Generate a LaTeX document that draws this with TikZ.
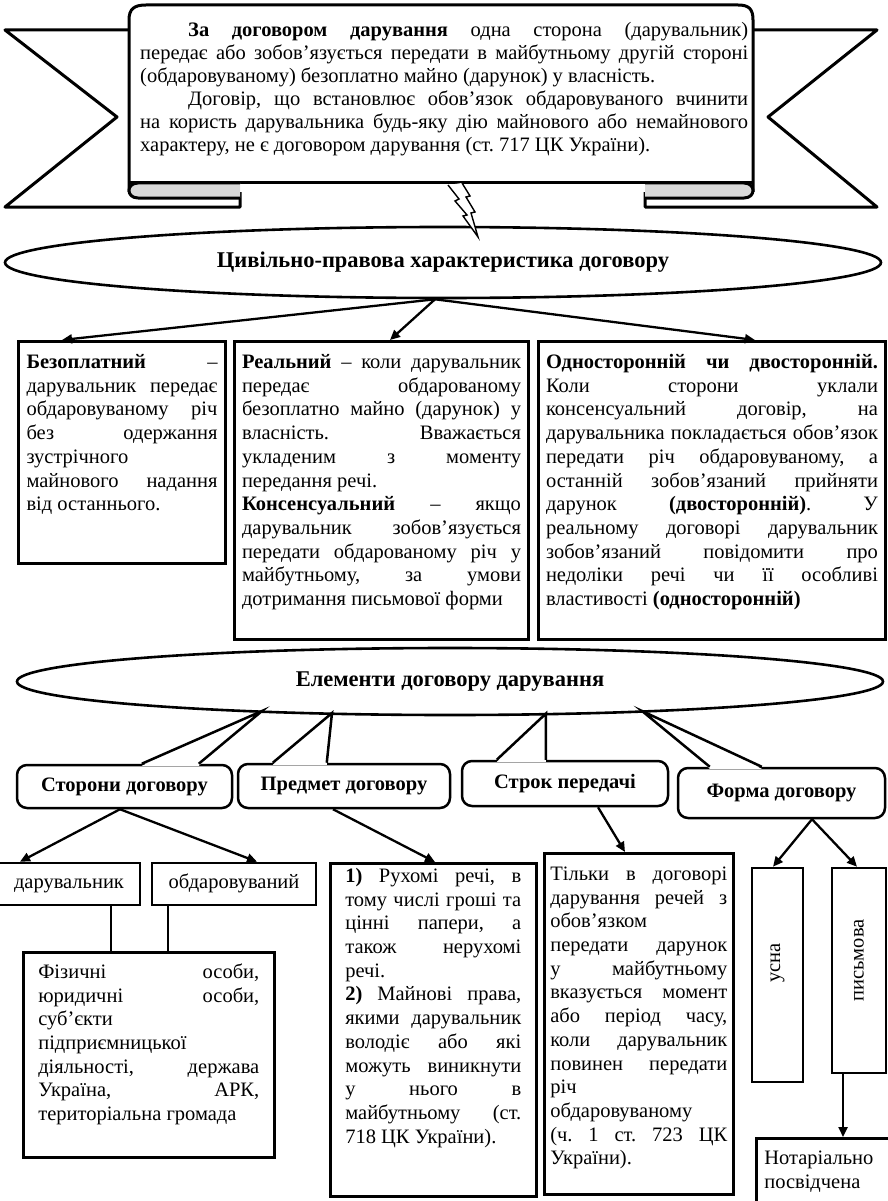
\documentclass[tikz,border=0pt]{standalone}
\usepackage{fontspec}
\setmainfont{Liberation Serif}
\usepackage{graphicx}
\usetikzlibrary{arrows.meta,shapes.geometric}

\frenchspacing
\tolerance=10000
\hbadness=10000
\hyphenpenalty=10000
\exhyphenpenalty=10000

\tikzset{
  ribbon/.style={line width=3pt, line join=round},
  oval/.style={draw, ellipse, line width=2.6pt, inner sep=0pt,
    font=\fontsize{22.5pt}{27pt}\selectfont\bfseries},
  frame/.style={draw, line width=3pt, anchor=north west, inner xsep=7.5pt, inner ysep=10.5pt},
  cell/.style={draw, line width=2.6pt},
  word/.style={cell, text height=12.5pt, text depth=4.5pt},
  bubble/.style={draw, line width=2.5pt, rounded corners=10pt, inner sep=0pt,
    font=\fontsize{20.5pt}{24pt}\selectfont\bfseries},
  tailline/.style={line width=2.5pt, line join=miter},
  arr/.style={line width=2.3pt, -{Triangle[length=10pt,width=9pt]}},
}
% text of a box: height, width, text
\newcommand{\fbody}[3]{\parbox[t][#1pt][t]{#2pt}{\strut #3}}
% tail of a callout: node, base from, base to, tip
\newcommand{\tail}[4]{%
  \fill[white] ([xshift=#2pt,yshift=-2pt]#1.north west) -- (#4) -- ([xshift=#3pt,yshift=-2pt]#1.north west) -- cycle;
  \draw[tailline] ([xshift=#2pt]#1.north west) -- (#4) -- ([xshift=#3pt]#1.north west);}

\begin{document}
\begin{tikzpicture}[x=1pt, y=-1pt, font=\fontsize{20.5pt}{23.7pt}\selectfont]
  \useasboundingbox (0,0) rectangle (887,1201);

  % ribbon with the definition
  \draw[ribbon] (129,30) -- (5,30) -- (117,117) -- (5,207) -- (240,207) -- (240,185);
  \draw[ribbon] (753,30) -- (877,30) -- (768,117) -- (877,207) -- (645,207) -- (645,185);
  \draw[ribbon, fill=white] (129,192) -- (129,20) .. controls (129,9) and (134,5) .. (146,5)
    -- (738,5) .. controls (749,5) and (753,9) .. (753,20) -- (753,192);
  \draw[ribbon] (129,183) -- (753,183);
  \filldraw[ribbon, fill=gray!30] (240,183) -- (138,183) .. controls (126,183) and (126,198) .. (138,198) -- (240,198);
  \filldraw[ribbon, fill=gray!30] (645,183) -- (744,183) .. controls (756,183) and (756,198) .. (744,198) -- (645,198);
  \node[anchor=base west, inner sep=0pt, font=\fontsize{20.5pt}{22.9pt}\selectfont] (def) at (140,37)
    {\parbox[t]{608pt}{\hspace*{48pt}\textbf{За договором дарування} одна сторона (дарувальник)\linebreak
     передає або зобов’язується передати в майбутньому другій стороні\linebreak
     (обдаровуваному) безоплатно майно (дарунок) у власність.\par
     \hspace*{48pt}Договір, що встановлює обов’язок обдаровуваного вчинити\linebreak
     на користь дарувальника будь-яку дію майнового або немайнового\linebreak
     характеру, не є договором дарування (ст. 717 ЦК України).}};

  \node[oval, minimum width=876pt, minimum height=71pt] (char) at (443,262.5) {Цивільно-правова характеристика договору};
  \filldraw[line width=1.4pt, fill=white, line join=miter] (448,185) -- (459,199) -- (455,201) -- (467,215)
    -- (463,216) -- (478,237) -- (471,213) -- (475,212) -- (466,197) -- (470,196) -- (462,183);

  % features
  \node[frame, inner xsep=8pt] (free) at (17,340) {\fbody{201}{191}{\textbf{Безоплатний} –\linebreak
    дарувальник передає\linebreak обдаровуваному річ\linebreak без одержання\linebreak зустрічного\\
    майнового надання\linebreak від останнього.}};
  \node[frame] (real) at (233,340) {\fbody{277}{279}{\textbf{Реальний} – коли дарувальник\linebreak
    передає обдарованому\linebreak безоплатно майно (дарунок) у\linebreak власність. Вважається\linebreak
    укладеним з моменту\linebreak передання речі.\par
    \textbf{Консенсуальний} – якщо\linebreak дарувальник зобов’язується\linebreak
    передати обдарованому річ у\linebreak майбутньому, за умови\linebreak дотримання письмової форми}};
  \node[frame] (side) at (537,340) {\fbody{277}{332}{\textbf{Односторонній чи двосторонній.}\linebreak
    Коли сторони уклали\linebreak консенсуальний договір, на\linebreak
    дарувальника покладається обов’язок\linebreak передати річ обдаровуваному, а\linebreak
    останній зобов’язаний прийняти\linebreak дарунок \textbf{(двосторонній)}. У\linebreak
    реальному договорі дарувальник\linebreak зобов’язаний повідомити про\linebreak
    недоліки речі чи її особливі\linebreak властивості \textbf{(односторонній)}}};
  \draw[arr] ([xshift=-8pt]char.south) -- (62,0 |- free.north);
  \draw[arr] ([xshift=-8pt]char.south) -- (390,0 |- real.north);
  \draw[arr] ([xshift=-8pt]char.south) -- (755,0 |- side.north);

  % elements
  \node[bubble, minimum width=215pt, minimum height=43pt] (sides) at (124.5,786.5) {Сторони договору};
  \node[bubble, minimum width=212pt, minimum height=44pt] (subj) at (344,786) {Предмет договору};
  \node[bubble, minimum width=206pt, minimum height=45pt] (term) at (565,783.5) {Строк передачі};
  \node[bubble, minimum width=207pt, minimum height=50pt] (form) at (781.5,793) {Форма договору};
  \tail{sides}{126}{183}{262,711}
  \tail{subj}{36}{90}{332,713}
  \tail{term}{36}{85}{546,713.5}
  \tail{form}{33}{85}{642,711}
  \node[oval, minimum width=866pt, minimum height=67pt] (elem) at (450,681.5) {Елементи договору дарування};

  \node[word, minimum width=142pt, minimum height=42pt] (donor) at (69,884) {дарувальник};
  \node[word, minimum width=164pt, minimum height=42pt] (donee) at (234,884) {обдаровуваний};
  \node[cell, anchor=north west, inner xsep=15pt, inner ysep=9.5pt] (pers) at (22,951)
    {\fbody{186}{221}{Фізичні особи,\linebreak юридичні особи,\linebreak суб’єкти\\ підприємницької\\
     діяльності, держава\linebreak Україна, АРК,\linebreak територіальна громада}};
  \node[cell, anchor=north west, inner xsep=15pt, inner ysep=2.5pt] (item) at (329,862)
    {\fbody{328}{176}{\textbf{1)} Рухомі речі, в\linebreak тому числі гроші та\linebreak цінні папери, а\linebreak
     також нерухомі\linebreak речі.\par \textbf{2)} Майнові права,\linebreak якими дарувальник\linebreak
     володіє або які\linebreak можуть виникнути\linebreak у нього в\linebreak майбутньому (ст.\linebreak
     718 ЦК України).}};
  \node[cell, anchor=north west, inner xsep=6pt, inner ysep=10.5pt] (time) at (543,852)
    {\fbody{320}{177}{Тільки в договорі\linebreak дарування речей з\linebreak обов’язком\\
     передати дарунок\linebreak у майбутньому\linebreak вказується момент\linebreak або період часу,\linebreak
     коли дарувальник\linebreak повинен передати\linebreak річ\\ обдаровуваному\\ (ч. 1 ст. 723 ЦК\linebreak
     України).}};
  \node[cell, minimum width=51pt, minimum height=214pt] (oral) at (777.5,975) {\rotatebox{90}{\hspace{24pt}усна}};
  \node[cell, minimum width=54pt, minimum height=205pt] (writ) at (859,970.5) {\rotatebox{90}{\hspace{20pt}письмова}};
  \node[cell, anchor=north west, inner xsep=8pt, inner ysep=9.5pt] (notary) at (755,1137)
    {\fbody{49}{127}{Нотаріально\\ посвідчена}};

  \draw[arr] ([xshift=-4.5pt]sides.south) -- (20,0 |- donor.north);
  \draw[arr] ([xshift=-4.5pt]sides.south) -- (257,0 |- donee.north);
  \draw[arr] ([xshift=-11pt]subj.south) -- (435,0 |- item.north);
  \draw[arr] ([xshift=33pt]term.south) -- (625,0 |- time.north);
  \draw[arr] ([xshift=30.5pt]form.south) -- (773,0 |- oral.north);
  \draw[arr] ([xshift=30.5pt]form.south) -- (857,0 |- writ.north);
  \draw[line width=2.4pt] (111,0 |- donor.south) -- (111,0 |- pers.north);
  \draw[line width=2.4pt] (168,0 |- donee.south) -- (168,0 |- pers.north);
  \draw[arr] (843,0 |- writ.south) -- (843,0 |- notary.north);
\end{tikzpicture}
\end{document}
